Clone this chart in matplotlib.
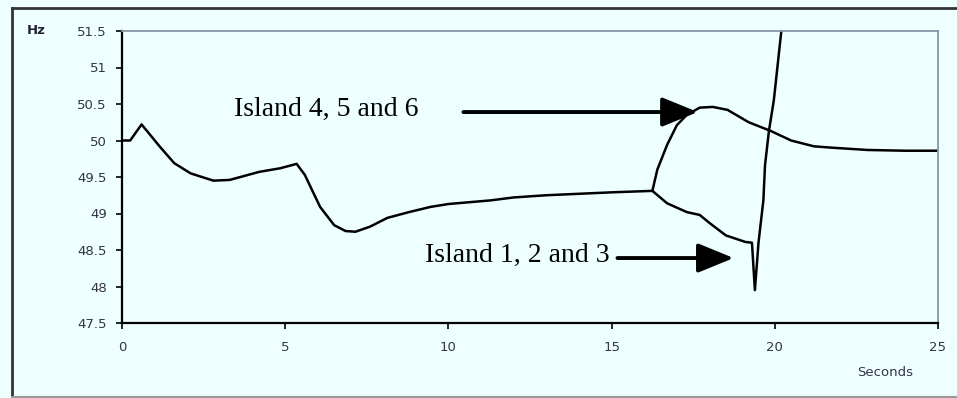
import matplotlib.pyplot as plt
from matplotlib.lines import Line2D

# frequency before the split (s, Hz)
trunk_t = [0, 0.25, 0.6, 1.17, 1.6, 2.1, 2.8, 3.3, 4.2, 4.85, 5.35, 5.6, 6.07, 6.5, 6.85,
           7.15, 7.6, 8.13, 8.8, 9.45, 10.0, 11.3, 12.0, 13.0, 14.0, 15.0, 16.25]
trunk_f = [50.0, 50.0, 50.22, 49.91, 49.69, 49.55, 49.45, 49.46, 49.57, 49.62, 49.68, 49.53, 49.09,
           48.84, 48.76, 48.75, 48.82, 48.94, 49.02, 49.09, 49.13, 49.18, 49.22, 49.25, 49.27, 49.29, 49.31]

# islands 4, 5 and 6
upper_t = [16.25, 16.4, 16.7, 17.0, 17.3, 17.7, 18.1, 18.55, 19.2, 19.88, 20.5, 21.2, 21.8, 22.85, 24.0, 25.0]
upper_f = [49.31, 49.6, 49.94, 50.21, 50.35, 50.45, 50.46, 50.42, 50.25, 50.13, 50.0, 49.92, 49.9, 49.87, 49.86, 49.86]

# islands 1, 2 and 3
lower_t = [16.25, 16.7, 17.3, 17.7, 18.0, 18.5, 19.1, 19.3, 19.39, 19.45, 19.5, 19.65, 19.7, 19.82, 19.97, 20.2, 20.3]
lower_f = [49.31, 49.14, 49.02, 48.98, 48.87, 48.7, 48.61, 48.6, 47.95, 48.3, 48.6, 49.18, 49.66, 50.13, 50.55, 51.5, 52.0]

yticks = [47.5, 48, 48.5, 49, 49.5, 50, 50.5, 51, 51.5]
ytick_labels = ['47.5', '48', '48.5', '49', '49.5', '50', '50.5', '51', '51.5']
xticks = [0, 5, 10, 15, 20, 25]

bg = '#eeffff'
fig = plt.figure(figsize=(9.57, 3.98), dpi=100, facecolor=bg)
ax = fig.add_axes([122 / 957, 1 - 323 / 398, (938 - 122) / 957, (323 - 31) / 398])
ax.set_facecolor(bg)

ax.plot(trunk_t, trunk_f, color='black', lw=1.8)
ax.plot(upper_t, upper_f, color='black', lw=1.8)
ax.plot(lower_t, lower_f, color='black', lw=1.8)

ax.set_xlim(0, 25)
ax.set_ylim(47.5, 51.5)
ax.set_xticks(xticks)
ax.set_xticklabels([str(x) for x in xticks])
ax.set_yticks(yticks)
ax.set_yticklabels(ytick_labels)
ax.tick_params(direction='out', length=4, width=1.2, labelsize=9.5, labelcolor='#333344', pad=7)
ax.tick_params(axis='x', pad=9)

for side in ['left', 'bottom']:
    ax.spines[side].set_color('black')
    ax.spines[side].set_linewidth(1.6)
for side in ['top', 'right']:
    ax.spines[side].set_color('#8896a8')
    ax.spines[side].set_linewidth(1.3)

ax.text(-0.117, 1.0, 'Hz', transform=ax.transAxes, fontsize=9.5, fontweight='bold',
        color='#222233', ha='left', va='center')
ax.text(0.935, -0.17, 'Seconds', transform=ax.transAxes, fontsize=9.5, color='#333344',
        ha='center', va='center')

arrow = dict(arrowstyle='-|>,head_length=2.2,head_width=0.9', color='black', lw=2.8,
             shrinkA=0, shrinkB=0)
ax.annotate('', xy=(17.64, 50.39), xytext=(10.46, 50.39), arrowprops=arrow)
ax.annotate('', xy=(18.74, 48.39), xytext=(15.18, 48.39), arrowprops=arrow)
ax.text(6.26, 50.42, 'Island 4, 5 and 6', family='Liberation Serif', fontsize=20,
        ha='center', va='center')
ax.text(12.12, 48.42, 'Island 1, 2 and 3', family='Liberation Serif', fontsize=20,
        ha='center', va='center')

# outer frame
fig.add_artist(Line2D([12 / 957, 12 / 957], [0, 1 - 8 / 398], color='#333333', lw=2))
fig.add_artist(Line2D([12 / 957, 1], [1 - 8 / 398, 1 - 8 / 398], color='#333333', lw=2))
fig.add_artist(Line2D([12 / 957, 1], [1.5 / 398, 1.5 / 398], color='#999999', lw=1.5))

fig.savefig('out.png', dpi=100, facecolor=bg)
